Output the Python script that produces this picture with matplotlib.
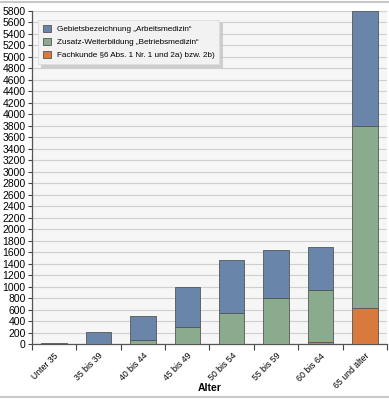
import numpy as np
import matplotlib.pyplot as plt
from matplotlib.lines import Line2D

# data
categories = ["Unter 35", "35 bis 39", "40 bis 44", "45 bis 49",
              "50 bis 54", "55 bis 59", "60 bis 64", "65 und älter"]
fachkunde = [0, 0, 0, 0, 0, 10, 35, 627]
betriebsmedizin = [0, 5, 70, 307, 540, 790, 910, 3163]
arbeitsmedizin = [25, 215, 423, 696, 927, 836, 743, 2010]
series_labels = ["Gebietsbezeichnung \u201eArbeitsmedizin\u201c",
                 "Zusatz-Weiterbildung \u201eBetriebsmedizin\u201c",
                 "Fachkunde \u00a76 Abs. 1 Nr. 1 und 2a) bzw. 2b)"]
y_ticks = list(range(0, 5801, 200))

plt.rcParams['font.family'] = ['Liberation Sans', 'DejaVu Sans']

fig = plt.figure(figsize=(3.89, 4.0), dpi=100)
ax = fig.add_axes([0.082, 0.139, 0.913, 0.834])
ax.set_facecolor('#f6f6f6')

x = np.arange(len(categories))
width = 0.57
edge = '#555555'
c_orange = '#d87a3c'
c_green = '#8aab8d'
c_blue = '#6a85aa'

bottom1 = np.array(fachkunde)
bottom2 = bottom1 + np.array(betriebsmedizin)
b3 = ax.bar(x, fachkunde, width, color=c_orange, edgecolor=edge, linewidth=0.6, zorder=3)
b2 = ax.bar(x, betriebsmedizin, width, bottom=bottom1, color=c_green, edgecolor=edge, linewidth=0.6, zorder=3)
b1 = ax.bar(x, arbeitsmedizin, width, bottom=bottom2, color=c_blue, edgecolor=edge, linewidth=0.6, zorder=3)

ax.set_xlim(-0.5, len(categories) - 0.5)
ax.set_ylim(0, 5800)
ax.set_yticks(y_ticks)
ax.tick_params(axis='y', labelsize=7.5, length=3, width=0.8, color='#444444', pad=1.5)
ax.yaxis.grid(True, color='#cfcfcf', linewidth=0.8, zorder=0)

ax.set_xticks(x)
ax.set_xticklabels(categories, rotation=45, ha='right', rotation_mode='anchor', fontsize=6.3)
ax.tick_params(axis='x', length=0, pad=5)
ax.set_xticks(np.arange(-0.5, len(categories) + 0.5, 1), minor=True)
ax.tick_params(axis='x', which='minor', length=4, width=0.8, color='#444444')
ax.set_xlabel('Alter', fontsize=7.5, fontweight='bold')
ax.xaxis.set_label_coords(0.5, -0.117)

for s in ['top', 'right']:
    ax.spines[s].set_visible(False)
for s in ['left', 'bottom']:
    ax.spines[s].set_color('#555555')
    ax.spines[s].set_linewidth(0.9)

leg = ax.legend([b1, b2, b3], series_labels, loc='upper left', bbox_to_anchor=(0.005, 0.985),
                frameon=True, shadow={'color': '#c4c4c4', 'alpha': 0.8}, fancybox=False,
                handlelength=1.0, handleheight=1.0, borderpad=0.6, labelspacing=0.55,
                handletextpad=0.7,
                prop={'family': ['Liberation Sans Narrow', 'Liberation Sans'], 'size': 5.9})
leg.get_frame().set_facecolor('#f2f2f2')
leg.get_frame().set_edgecolor('#dddddd')
leg.get_frame().set_linewidth(0.6)

# light frame lines at top and bottom of the image
fig.add_artist(Line2D([0, 1], [0.994, 0.994], color='#c8c8c8', linewidth=1.5, transform=fig.transFigure))
fig.add_artist(Line2D([0, 1], [0.008, 0.008], color='#c8c8c8', linewidth=1.5, transform=fig.transFigure))

fig.savefig('out.png', dpi=100)
